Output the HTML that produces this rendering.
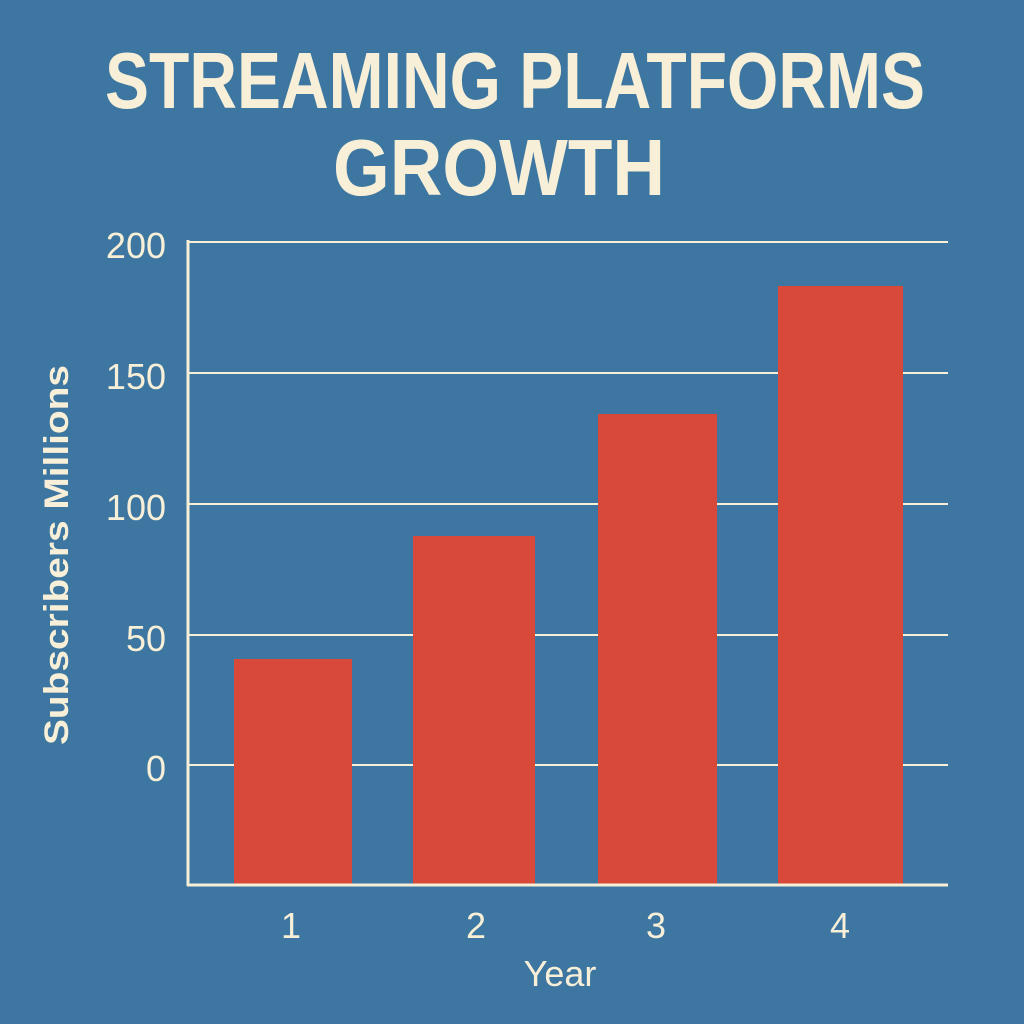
<!DOCTYPE html>
<html><head><meta charset="utf-8"><style>
html,body{margin:0;padding:0;background:#3d76a0;}
svg{display:block}
text{font-family:"Liberation Sans",sans-serif;fill:#f7efd8}
</style></head><body>
<svg width="1024" height="1024" viewBox="0 0 1024 1024">
<rect width="1024" height="1024" fill="#3d76a0"/>
<text x="515" y="108" font-size="80" font-weight="bold" text-anchor="middle" textLength="820" lengthAdjust="spacingAndGlyphs">STREAMING PLATFORMS</text>
<text x="499" y="195" font-size="80" font-weight="bold" text-anchor="middle" textLength="332" lengthAdjust="spacingAndGlyphs">GROWTH</text>
<g stroke="#f7efd8" stroke-width="2">
<line x1="188" y1="242" x2="948" y2="242"/>
<line x1="188" y1="373" x2="948" y2="373"/>
<line x1="188" y1="504" x2="948" y2="504"/>
<line x1="188" y1="635" x2="948" y2="635"/>
<line x1="188" y1="765" x2="948" y2="765"/>
</g>
<g fill="#d9493a">
<rect x="234" y="659" width="118" height="226"/>
<rect x="413" y="536" width="122" height="349"/>
<rect x="598" y="414" width="119" height="471"/>
<rect x="778" y="286" width="125" height="599"/>
</g>
<line x1="188" y1="240" x2="188" y2="886" stroke="#f7efd8" stroke-width="3"/>
<line x1="187" y1="885" x2="948" y2="885" stroke="#f7efd8" stroke-width="3"/>
<g font-size="36" text-anchor="end">
<text x="166" y="258">200</text>
<text x="166" y="389">150</text>
<text x="166" y="520">100</text>
<text x="166" y="651">50</text>
<text x="166" y="781">0</text>
</g>
<g font-size="36" text-anchor="middle">
<text x="291" y="938">1</text>
<text x="476" y="938">2</text>
<text x="656" y="938">3</text>
<text x="840" y="938">4</text>
<text x="560" y="986">Year</text>
</g>
<text transform="translate(68,555) rotate(-90)" font-size="34" font-weight="bold" text-anchor="middle" textLength="380" lengthAdjust="spacingAndGlyphs">Subscribers Millions</text>
</svg>
</body></html>
